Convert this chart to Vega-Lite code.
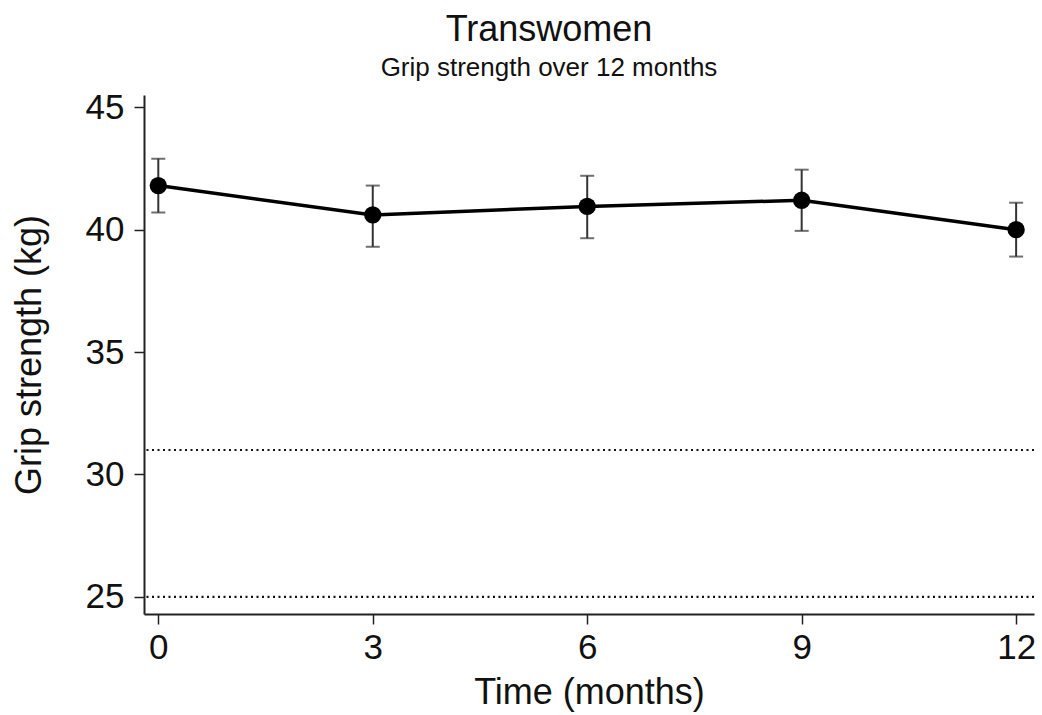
{
  "$schema": "https://vega.github.io/schema/vega-lite/v6.json",
  "width": 890,
  "height": 519,
  "autosize": "none",
  "padding": {"left": 144, "top": 95, "right": 8, "bottom": 101},
  "background": "white",
  "config": {
    "font": "Liberation Sans",
    "view": {"stroke": null},
    "axis": {"grid": false, "domainColor": "#222", "tickColor": "#222", "labelColor": "#111", "titleColor": "#111", "domainWidth": 2, "tickWidth": 1.5, "tickSize": 10, "labelFont": "Liberation Sans", "titleFont": "Liberation Sans", "titleFontWeight": "normal"}
  },
  "title": {
    "text": "Transwomen",
    "subtitle": "Grip strength over 12 months",
    "fontSize": 36,
    "fontWeight": "normal",
    "subtitleFontSize": 26,
    "subtitlePadding": 6,
    "color": "#111",
    "subtitleColor": "#111",
    "anchor": "middle",
    "dx": -40,
    "offset": 8
  },
  "datasets": {
    "grip": [
      {"month": 0, "mean": 41.8, "lo": 40.7, "hi": 42.9},
      {"month": 3, "mean": 40.6, "lo": 39.3, "hi": 41.8},
      {"month": 6, "mean": 40.95, "lo": 39.65, "hi": 42.2},
      {"month": 9, "mean": 41.2, "lo": 39.95, "hi": 42.45},
      {"month": 12, "mean": 40.0, "lo": 38.9, "hi": 41.1}
    ],
    "refs": [{"ref": 31}, {"ref": 25}]
  },
  "layer": [
    {
      "data": {"name": "refs"},
      "mark": {"type": "rule", "color": "#111", "strokeWidth": 2.2, "strokeDash": [2, 3.5]},
      "encoding": {
        "y": {"field": "ref", "type": "quantitative", "scale": {"domain": [24.3, 45.5], "nice": false, "zero": false}}
      }
    },
    {
      "data": {"name": "grip"},
      "mark": {"type": "rule", "color": "#333", "strokeWidth": 2},
      "encoding": {
        "x": {"field": "month", "type": "quantitative"},
        "y": {"field": "lo", "type": "quantitative"},
        "y2": {"field": "hi"}
      }
    },
    {
      "data": {"name": "grip"},
      "mark": {"type": "tick", "color": "#333", "thickness": 2, "size": 14, "orient": "horizontal"},
      "encoding": {
        "x": {"field": "month", "type": "quantitative"},
        "y": {"field": "lo", "type": "quantitative"}
      }
    },
    {
      "data": {"name": "grip"},
      "mark": {"type": "tick", "color": "#333", "thickness": 2, "size": 14, "orient": "horizontal"},
      "encoding": {
        "x": {"field": "month", "type": "quantitative"},
        "y": {"field": "hi", "type": "quantitative"}
      }
    },
    {
      "data": {"name": "grip"},
      "mark": {"type": "line", "color": "#000", "strokeWidth": 3.5},
      "encoding": {
        "x": {"field": "month", "type": "quantitative"},
        "y": {"field": "mean", "type": "quantitative"}
      }
    },
    {
      "data": {"name": "grip"},
      "mark": {"type": "point", "filled": true, "color": "#000", "opacity": 1, "size": 300},
      "encoding": {
        "x": {
          "field": "month", "type": "quantitative",
          "scale": {"domain": [-0.2, 12.25], "nice": false, "zero": false},
          "axis": {"values": [0, 3, 6, 9, 12], "format": "d", "title": "Time (months)", "labelFontSize": 35, "titleFontSize": 36, "labelPadding": 6, "titlePadding": 10}
        },
        "y": {
          "field": "mean", "type": "quantitative",
          "scale": {"domain": [24.3, 45.5], "nice": false, "zero": false},
          "axis": {"values": [25, 30, 35, 40, 45], "format": "d", "title": "Grip strength (kg)", "labelFontSize": 35, "titleFontSize": 36, "labelPadding": 10, "titlePadding": 37}
        }
      }
    }
  ]
}
